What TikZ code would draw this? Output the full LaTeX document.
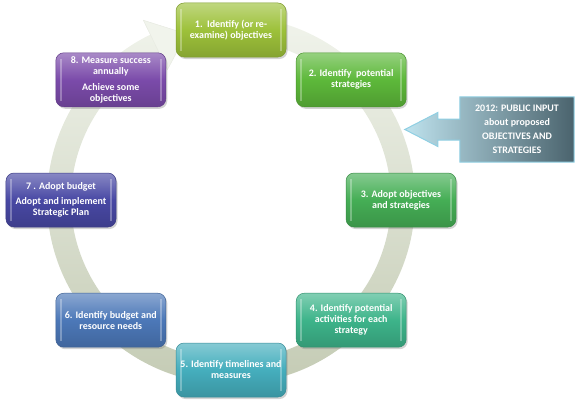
\documentclass[tikz,border=0pt]{standalone}
\usepackage{fontspec}
\setmainfont{Carlito}
\usetikzlibrary{calc,shadows,backgrounds}

\definecolor{stepA}{HTML}{9DC13A}
\definecolor{stepB}{HTML}{5DB83A}
\definecolor{stepC}{HTML}{45AE55}
\definecolor{stepD}{HTML}{3DB48A}
\definecolor{stepE}{HTML}{45AEBD}
\definecolor{stepF}{HTML}{4C78B8}
\definecolor{stepG}{HTML}{4848A4}
\definecolor{stepH}{HTML}{7B4BAA}
\definecolor{ringtop}{HTML}{F1F4EC}
\definecolor{ringbot}{HTML}{C4CBB4}
\definecolor{inputl}{HTML}{BFE3EE}
\definecolor{inputr}{HTML}{4A636D}
\definecolor{inputedge}{HTML}{8FCFE3}

\tikzset{
    stepbox/.style={rounded corners=8bp, minimum width=110bp, minimum height=54bp,
        draw=#1!80!black, line width=0.5bp,
        top color=#1!65!white, bottom color=#1!85!black, middle color=#1,
        drop shadow={opacity=0.35, shadow xshift=1.5bp, shadow yshift=-2bp},
        path picture={
            \draw[white, opacity=0.3, line width=1.5bp]
                ([xshift=5bp,yshift=-6bp]path picture bounding box.north west)
                -- ([xshift=5bp,yshift=6bp]path picture bounding box.south west);
            \draw[white, opacity=0.3, line width=1.5bp]
                ([xshift=-5bp,yshift=-6bp]path picture bounding box.north east)
                -- ([xshift=-5bp,yshift=6bp]path picture bounding box.south east);
        },
        text=white, align=center, inner sep=2bp, font=\bfseries\fontsize{10}{11}\selectfont},
    inputtext/.style={minimum width=114bp, minimum height=65bp, inner sep=0pt,
        text=white, align=center, font=\bfseries\fontsize{10}{14}\selectfont},
}

\begin{document}
\begin{tikzpicture}[x=1bp,y=1bp]
    \useasboundingbox (0,0) rectangle (580,405);
    \coordinate (c) at (231,205);
    \begin{scope}[on background layer]
        \shade[top color=ringtop, bottom color=ringbot]
            ($(c)+(92:184)$) arc[start angle=92, end angle=-244, radius=184]
            -- ($(c)+(-244:160)$) arc[start angle=-244, end angle=92, radius=160] -- cycle;
        \fill[ringtop, draw=ringbot!40!white, line width=0.5bp]
            ($(c)+(116:200)$) -- ($(c)+(105:172)$) -- ($(c)+(116:145)$) -- cycle;
    \end{scope}

    \foreach \i/\ang/\col/\txt in {
        1/90/stepA/{1.\ \ Identify (or re-\\examine) objectives},
        2/45/stepB/{2. Identify\ \ potential\\strategies},
        3/0/stepC/{3. Adopt objectives\\and strategies},
        4/-45/stepD/{4. Identify potential\\activities for each\\strategy},
        5/-90/stepE/{5. Identify timelines and\\measures},
        6/-135/stepF/{6. Identify budget and\\resource needs},
        7/180/stepG/{7 . Adopt budget\\[4bp]Adopt and implement\\Strategic Plan},
        8/135/stepH/{8. Measure success\\annually\\[5bp]Achieve some\\objectives}} {
        \node[stepbox=\col] (step\i) at ($(c)+(\ang:170)$) {\txt};
    }

    \node[inputtext] (input) at (517,275.5) {2012: PUBLIC INPUT\\about proposed\\OBJECTIVES AND\\STRATEGIES};
    \begin{scope}[on background layer]
        \shade[left color=inputl, right color=inputr, draw=inputedge, line width=1bp]
            (input.north west) -- (input.north east) -- (input.south east) -- (input.south west)
            -- ([yshift=-10.5bp]input.west) -- ++(-22,0) -- ++(0,-6.5)
            -- ([xshift=-55bp]input.west) -- ([xshift=-22bp,yshift=17bp]input.west)
            -- ++(0,-6.5) -- ([yshift=10.5bp]input.west) -- cycle;
    \end{scope}
\end{tikzpicture}
\end{document}
